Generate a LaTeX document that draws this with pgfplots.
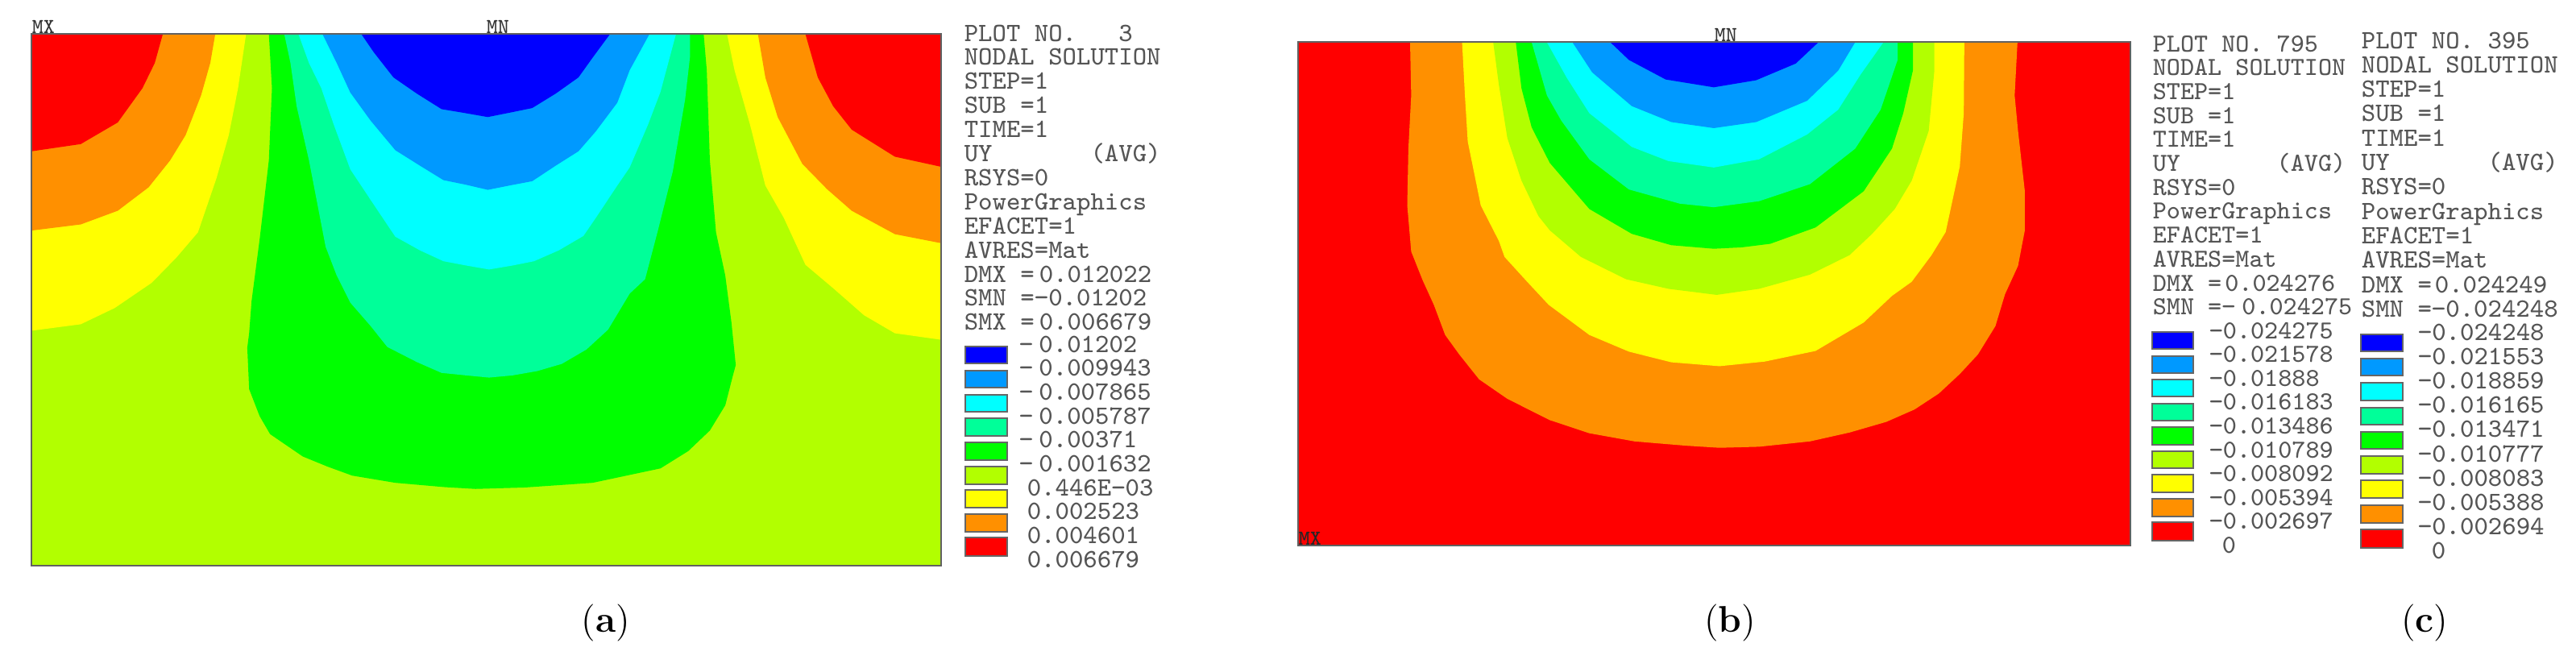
\documentclass[border=0pt]{standalone}
\usepackage{pgfplots}
\pgfplotsset{compat=1.18}
\definecolor{cBlue}{HTML}{0000FF}
\definecolor{cSky}{HTML}{0099FF}
\definecolor{cCyan}{HTML}{00FFFF}
\definecolor{cSpring}{HTML}{00FF99}
\definecolor{cGreen}{HTML}{00FF00}
\definecolor{cLime}{HTML}{B2FF00}
\definecolor{cYellow}{HTML}{FFFF00}
\definecolor{cOrange}{HTML}{FF9000}
\definecolor{cRed}{HTML}{FF0000}
\definecolor{ansText}{HTML}{555555}
\pgfplotsset{
  panel/.style={
    scale only axis, xtick=\empty, ytick=\empty,
    y dir=reverse, axis line style={draw=black!62, line width=0.5pt},
    anchor=north west, clip=true,
    axis on top,
  },
  zone/.style={fill=#1, draw=none, forget plot},
}
% one block of text lines, x in reference pixels
\newcommand{\block}[5]{%
  \foreach \l [count=\i from 0] in {#5}
    \node[anchor=base west, inner sep=0pt, text=ansText, font=\fontsize{#2}{#2}\selectfont\ttfamily]
      at (#1,{#3+\i*#4}) {\l};%
}
\newcommand{\swatch}[5]{%
  \addplot[fill=#5, draw=black!60, line width=0.3pt] coordinates {(#1,#3)(#2,#3)(#2,#4)(#1,#4)} -- cycle;%
}
\begin{document}
\begin{tikzpicture}[x=1pt,y=1pt]
\path[use as bounding box] (0,0) rectangle (799.25pt,207pt);

% (a)
\begin{axis}[panel, at={(9.75pt,196.4pt)}, width=282.25pt, height=164.9pt,
  xmin=50, xmax=1525, ymin=50, ymax=1525]
\addplot[zone=cLime] coordinates {(50,50)(1525,50)(1525,1525)(50,1525)} -- cycle;
\addplot[zone=cYellow] coordinates {(50,873)(130,855)(185,810)(245,740)(285,670)(320,600)(350,450)(370,330)(385,200)(398,50)(50,50)} -- cycle;
\addplot[zone=cOrange] coordinates {(50,595)(130,578)(190,540)(240,475)(275,400)(300,330)(325,220)(340,130)(348,50)(50,50)} -- cycle;
\addplot[zone=cRed] coordinates {(50,375)(130,355)(190,295)(230,200)(250,130)(263,50)(50,50)} -- cycle;
\addplot[zone=cYellow] coordinates {(1178,50)(1190,150)(1215,300)(1240,470)(1270,560)(1305,690)(1350,755)(1400,830)(1450,880)(1525,898)(1525,50)} -- cycle;
\addplot[zone=cOrange] coordinates {(1228,50)(1240,170)(1260,280)(1300,410)(1340,480)(1380,540)(1450,605)(1525,630)(1525,50)} -- cycle;
\addplot[zone=cRed] coordinates {(1305,50)(1325,170)(1350,250)(1380,315)(1450,390)(1525,418)(1525,50)} -- cycle;
\addplot[zone=cGreen] coordinates {(435,50)(440,200)(435,400)(420,620)(407,790)(403,880)(400,920)(403,1035)(420,1110)(437,1160)(490,1222)(530,1250)(570,1275)(640,1295)(720,1307)(770,1312)(850,1308)(960,1295)(1070,1255)(1115,1207)(1150,1150)(1175,1080)(1187,1000)(1192,968)(1185,850)(1175,720)(1160,600)(1150,400)(1145,150)(1140,50)} -- cycle;
\addplot[zone=cSpring] coordinates {(460,50)(470,130)(480,250)(500,400)(527,640)(545,720)(567,795)(600,860)(627,918)(675,960)(715,990)(755,997)(792,1003)(830,997)(870,985)(910,965)(950,925)(985,870)(1020,770)(1045,730)(1065,600)(1090,430)(1110,230)(1118,110)(1118,50)} -- cycle;
\addplot[zone=cCyan] coordinates {(483,50)(500,130)(520,200)(540,300)(567,425)(600,510)(640,612)(680,650)(718,680)(755,692)(792,703)(830,692)(865,680)(905,650)(945,610)(965,560)(1000,470)(1020,420)(1050,300)(1070,210)(1095,50)} -- cycle;
\addplot[zone=cSky] coordinates {(522,50)(545,130)(567,212)(600,290)(640,372)(680,415)(718,455)(755,468)(790,482)(825,470)(862,458)(900,415)(937,375)(965,320)(1000,240)(1020,150)(1052,50)} -- cycle;
\addplot[zone=cBlue] coordinates {(585,50)(605,100)(637,170)(675,215)(715,258)(750,268)(790,280)(825,268)(862,255)(900,215)(937,170)(960,115)(988,50)} -- cycle;
\end{axis}

% (b)
\begin{axis}[panel, at={(402.75pt,193.9pt)}, width=258.3pt, height=156.1pt,
  xmin=45, xmax=1517, ymin=50, ymax=1468]
\addplot[zone=cRed] coordinates {(45,50)(1517,50)(1517,1468)(45,1468)} -- cycle;
\addplot[zone=cOrange] coordinates {(243,50)(245,200)(240,350)(238,510)(245,640)(265,720)(285,790)(305,875)(330,930)(365,1000)(415,1055)(490,1115)(560,1152)(640,1175)(730,1187)(790,1193)(860,1190)(950,1175)(1020,1150)(1085,1120)(1135,1085)(1178,1040)(1215,985)(1247,930)(1278,850)(1295,760)(1318,680)(1330,580)(1330,470)(1318,300)(1312,200)(1317,50)} -- cycle;
\addplot[zone=cYellow] coordinates {(335,50)(340,200)(345,330)(368,510)(400,610)(410,655)(450,725)(488,790)(560,875)(630,922)(705,952)(790,963)(870,950)(960,920)(1045,840)(1095,765)(1130,725)(1165,650)(1190,585)(1215,400)(1222,250)(1223,50)} -- cycle;
\addplot[zone=cLime] coordinates {(390,50)(400,170)(415,320)(440,440)(470,540)(490,580)(545,655)(625,718)(700,745)(785,762)(860,745)(950,705)(1020,650)(1060,590)(1100,520)(1130,440)(1160,300)(1170,130)(1170,50)} -- cycle;
\addplot[zone=cGreen] coordinates {(430,50)(440,180)(458,290)(490,390)(560,520)(635,590)(705,622)(780,632)(830,628)(880,618)(960,572)(1045,470)(1095,350)(1115,250)(1132,130)(1132,50)} -- cycle;
\addplot[zone=cSpring] coordinates {(458,50)(485,200)(510,270)(560,380)(630,465)(720,505)(780,515)(860,498)(950,450)(1030,350)(1075,240)(1105,100)(1105,50)} -- cycle;
\addplot[zone=cCyan] coordinates {(485,50)(520,150)(560,250)(635,345)(700,385)(780,403)(860,380)(945,310)(1000,240)(1040,140)(1080,50)} -- cycle;
\addplot[zone=cSky] coordinates {(530,50)(565,135)(635,230)(705,275)(780,292)(855,275)(945,215)(1000,130)(1030,50)} -- cycle;
\addplot[zone=cBlue] coordinates {(597,50)(630,100)(695,155)(780,177)(855,157)(925,110)(965,50)} -- cycle;
\end{axis}

% colour keys, in reference pixels
\begin{axis}[at={(0,0)}, anchor=south west, scale only axis, hide axis,
  width=799.25pt, height=207pt, xmin=0, xmax=3197, ymin=0, ymax=828, y dir=reverse, clip=false]
\swatch{1198}{1250}{430}{451}{cBlue}
\swatch{1198}{1250}{460}{481}{cSky}
\swatch{1198}{1250}{490}{511}{cCyan}
\swatch{1198}{1250}{519}{541}{cSpring}
\swatch{1198}{1250}{549}{571}{cGreen}
\swatch{1198}{1250}{579}{601}{cLime}
\swatch{1198}{1250}{608}{630}{cYellow}
\swatch{1198}{1250}{638}{660}{cOrange}
\swatch{1198}{1250}{667}{690}{cRed}
\swatch{2671}{2722}{412}{433}{cBlue}
\swatch{2671}{2722}{442}{463}{cSky}
\swatch{2671}{2722}{471}{492}{cCyan}
\swatch{2671}{2722}{501}{522}{cSpring}
\swatch{2671}{2722}{530}{552}{cGreen}
\swatch{2671}{2722}{560}{581}{cLime}
\swatch{2671}{2722}{589}{611}{cYellow}
\swatch{2671}{2722}{619}{641}{cOrange}
\swatch{2671}{2722}{648}{671}{cRed}
\swatch{2930}{2982}{415}{436}{cBlue}
\swatch{2930}{2982}{445}{466}{cSky}
\swatch{2930}{2982}{475}{497}{cCyan}
\swatch{2930}{2982}{506}{527}{cSpring}
\swatch{2930}{2982}{536}{557}{cGreen}
\swatch{2930}{2982}{566}{588}{cLime}
\swatch{2930}{2982}{596}{618}{cYellow}
\swatch{2930}{2982}{627}{649}{cOrange}
\swatch{2930}{2982}{657}{680}{cRed}
\end{axis}

% text, in reference pixels from the top left
\begin{scope}[x=0.25pt,y=-0.25pt,yshift=207pt]
\block{1196}{8.2}{51}{29.9}{PLOT NO.~~~3,NODAL SOLUTION,STEP=1,SUB~=1,TIME=1,UY~~~~~~~(AVG),RSYS=0,PowerGraphics,EFACET=1,AVRES=Mat,DMX~=\kern1.5pt 0.012022,SMN~=−0.01202,SMX~=\kern1.5pt 0.006679}
\block{1264}{8.2}{437}{29.67}{−\kern1.8pt 0.01202,−\kern1.8pt 0.009943,−\kern1.8pt 0.007865,−\kern1.8pt 0.005787,−\kern1.8pt 0.00371,−\kern1.8pt 0.001632}
\block{1274}{8.2}{615}{29.67}{0.446E−03,0.002523,0.004601,0.006679}
\block{2671}{8.05}{64}{29.7}{PLOT NO. 795,NODAL SOLUTION,STEP=1,SUB~=1,TIME=1,UY~~~~~~~(AVG),RSYS=0,PowerGraphics,EFACET=1,AVRES=Mat,DMX~=\kern1pt 0.024276,SMN~=−\kern2pt 0.024275}
\block{2741}{8.05}{420}{29.6}{−0.024275,−0.021578,−0.01888,−0.016183,−0.013486,−0.010789,−0.008092,−0.005394,−0.002697}
\block{2757}{8.05}{686.4}{29.6}{0}
\block{2930}{8.2}{60}{30.3}{PLOT NO. 395,NODAL SOLUTION,STEP=1,SUB~=1,TIME=1,UY~~~~~~~(AVG),RSYS=0,PowerGraphics,EFACET=1,AVRES=Mat,DMX~=\kern1pt 0.024249,SMN~=−0.024248}
\block{3000}{8.2}{422}{30.2}{−0.024248,−0.021553,−0.018859,−0.016165,−0.013471,−0.010777,−0.008083,−0.005388,−0.002694}
\block{3017}{8.2}{693.8}{30.2}{0}
\block{39}{6.6}{41.5}{0}{\color{black!80}MX}
\block{603}{6.6}{41.5}{0}{\color{black!80}MN}
\block{2127}{6.6}{51.5}{0}{\color{black!80}MN}
\block{1611}{6.6}{676}{0}{\color{black!85}MX}
\node[font=\fontsize{11.5}{12}\selectfont] at (752,773) {(\textbf{a})};
\node[font=\fontsize{11.5}{12}\selectfont] at (2147,773) {(\textbf{b})};
\node[font=\fontsize{11.5}{12}\selectfont] at (3009,773) {(\textbf{c})};
\end{scope}
\end{tikzpicture}
\end{document}
